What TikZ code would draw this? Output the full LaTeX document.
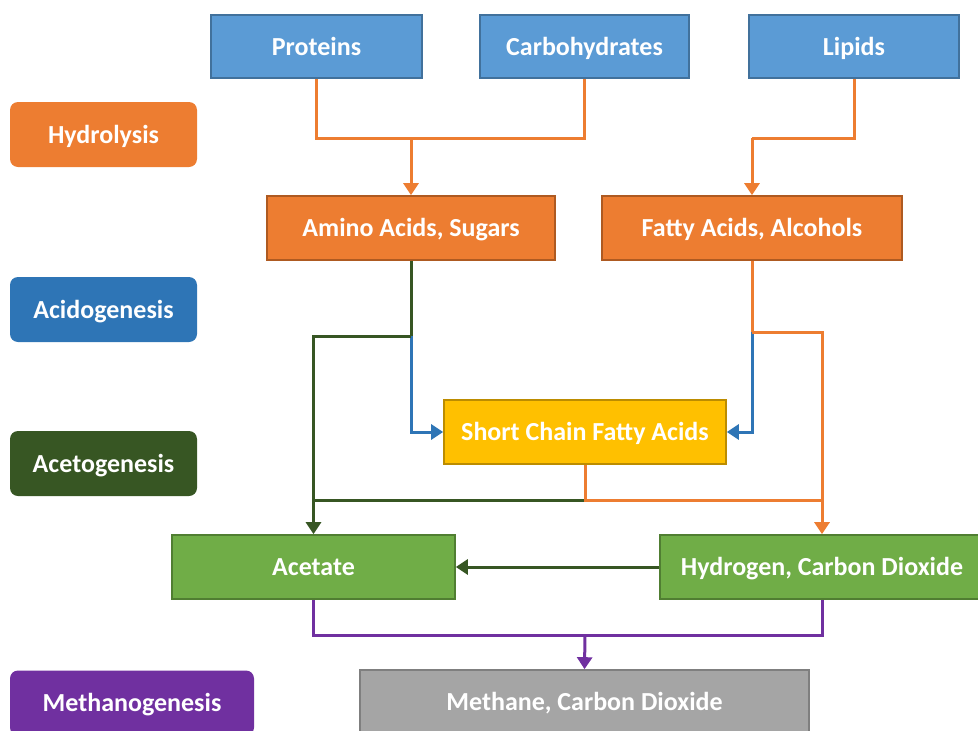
\documentclass[tikz,border=0pt]{standalone}
\usepackage{fontspec}
\setmainfont{Carlito}
\usetikzlibrary{arrows.meta,positioning}
\definecolor{boxblue}{HTML}{5B9BD5}
\definecolor{boxblueline}{HTML}{41719C}
\definecolor{boxorange}{HTML}{ED7D31}
\definecolor{boxorangeline}{HTML}{AE5A21}
\definecolor{boxgreen}{HTML}{70AD47}
\definecolor{boxgreenline}{HTML}{507E32}
\definecolor{boxgold}{HTML}{FFC000}
\definecolor{boxgoldline}{HTML}{BC8C00}
\definecolor{boxgray}{HTML}{A5A5A5}
\definecolor{boxgrayline}{HTML}{7F7F7F}
\definecolor{stageblue}{HTML}{2E75B6}
\definecolor{stagegreen}{HTML}{375623}
\definecolor{stagepurple}{HTML}{7030A0}

\begin{document}
\begin{tikzpicture}[x=1pt, y=-1pt,
  proc/.style={rectangle, draw=#1line, fill=#1, line width=1.6pt, inner sep=0pt,
    minimum height=64pt, text=white, text height=21pt, text depth=4pt,
    font=\fontsize{26}{30}\selectfont\bfseries},
  stage/.style={rectangle, rounded corners=8pt, fill=#1, inner sep=0pt,
    minimum width=187pt, minimum height=65pt, text=white, text height=21pt, text depth=4pt,
    font=\fontsize{26}{30}\selectfont\bfseries},
  link/.style={line width=3pt, draw=#1},
  arr/.style={link=#1, -{Triangle[width=15pt,length=12pt]}}
]
  \useasboundingbox (0,0) rectangle (978,731);

  % stages on the left
  \node[stage=boxorange] (hydrolysis) at (103.5,134.5) {Hydrolysis};
  \node[stage=stageblue] (acidogen) at (103.5,309.5) {Acidogenesis};
  \node[stage=stagegreen] (acetogen) at (103.5,463.5) {Acetogenesis};
  \node[stage=stagepurple, minimum width=244pt] (methanogen) at (132,703) {Methanogenesis};

  % substrates and products
  \node[proc=boxblue, minimum width=211pt, minimum height=63pt] (prot) at (316.5,46.5) {Proteins};
  \node[proc=boxblue, minimum width=209pt, minimum height=63pt] (carb) at (584.5,46.5) {Carbohydrates};
  \node[proc=boxblue, minimum width=210pt, minimum height=63pt] (lip) at (854,46.5) {Lipids};
  \node[proc=boxorange, minimum width=288pt] (amino) at (411,228) {Amino Acids, Sugars};
  \node[proc=boxorange, minimum width=300pt] (fatty) at (752,228) {Fatty Acids, Alcohols};
  \node[proc=boxgold, minimum width=282pt] (scfa) at (585,432) {Short Chain Fatty Acids};
  \node[proc=boxgreen, minimum width=283pt] (acet) at (313.5,567) {Acetate};
  \node[proc=boxgreen, minimum width=324pt] (hydro) at (822,567) {Hydrogen, Carbon Dioxide};
  \node[proc=boxgray, minimum width=449pt] (meth) at (584.5,702) {Methane, Carbon Dioxide};

  % junctions
  \coordinate (jA) at (411,138);
  \coordinate (jF) at (752,138);
  \coordinate (jAmino) at (411,336);
  \coordinate (jFatty) at (752,332);
  \coordinate (jScfa) at (585,500);
  \coordinate (jMeth) at (585,635);

  % hydrolysis
  \draw[link=boxorange] (prot.south) |- (jA) -| (carb.south);
  \draw[arr=boxorange] (jA) -- (amino.north);
  \draw[link=boxorange] (lip.south) |- (jF);
  \draw[arr=boxorange] (jF) -- (fatty.north);

  % acidogenesis
  \draw[arr=stageblue] (jAmino) |- (scfa.west);
  \draw[arr=stageblue] (jFatty) |- (scfa.east);
  \draw[link=stagegreen] (amino.south) -- (jAmino);
  \draw[arr=stagegreen] (jAmino) -| (acet.north);
  \draw[link=boxorange] (fatty.south) -- (jFatty);
  \draw[arr=boxorange] (jFatty) -| (hydro.north);

  % acetogenesis
  \draw[link=stagegreen] (jScfa) -- (jScfa -| acet.north);
  \draw[link=boxorange] (scfa.south) -- (jScfa) -- (jScfa -| hydro.north);
  \draw[arr=stagegreen] (hydro.west) -- (acet.east);

  % methanogenesis
  \draw[link=stagepurple] (acet.south) |- (jMeth) -| (hydro.south);
  \draw[arr=stagepurple] (jMeth) -- (meth.north);
\end{tikzpicture}
\end{document}
